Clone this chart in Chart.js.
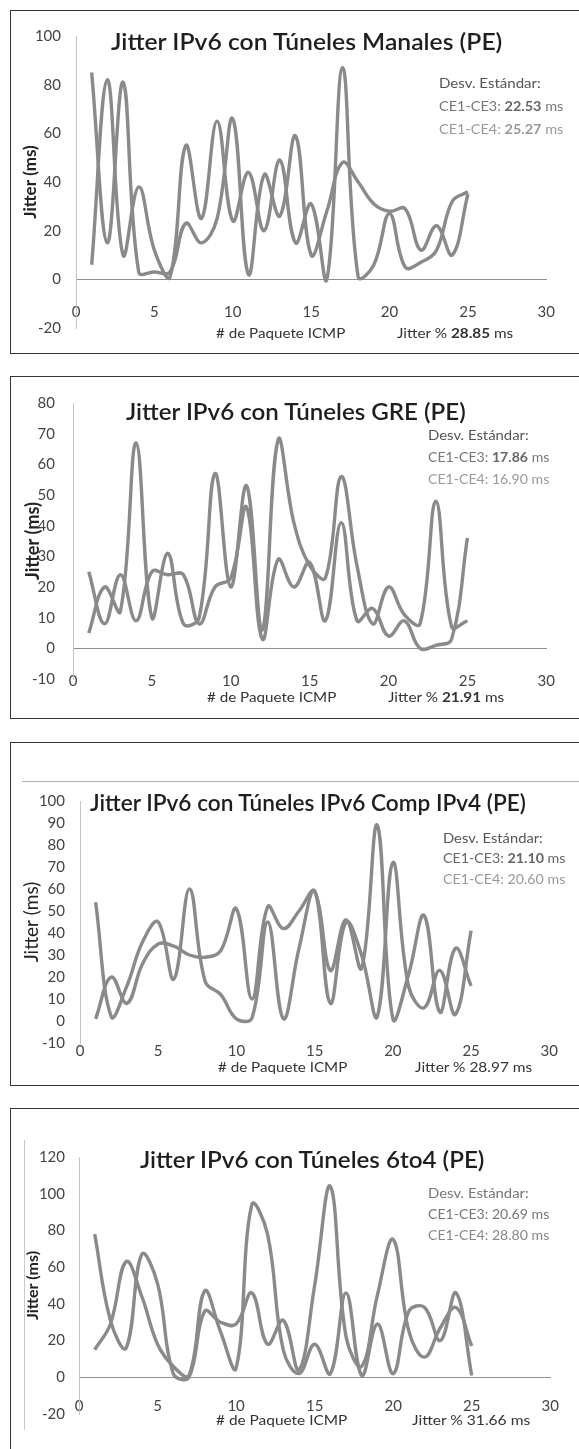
<!DOCTYPE html>
<html>
<head>
<meta charset="utf-8">
<script src="https://cdn.jsdelivr.net/npm/chart.js@4.4.1/dist/chart.umd.min.js"></script>
<style>
  body { margin: 0; background: #fff; width: 579px; height: 1449px; position: relative; overflow: hidden; font-family: Lato, "Open Sans", sans-serif; }
  .caja { position: absolute; border: 1.5px solid #363636; box-sizing: border-box; }
  .linea { position: absolute; background: #b0b0b0; }
  canvas { position: absolute; left: 0; }
  .txt { position: absolute; white-space: nowrap; line-height: 1; transform-origin: 0 50%; }
</style>
</head>
<body>
<div class="caja" style="left:10px;top:10px;width:570px;height:344px"></div>
<div class="caja" style="left:10px;top:376px;width:570px;height:343px"></div>
<div class="caja" style="left:10px;top:742px;width:570px;height:344px"></div>
<div class="caja" style="left:10px;top:1108px;width:570px;height:400px"></div>
<div class="linea" style="left:22px;top:781px;width:557px;height:1px"></div>
<div class="linea" style="left:24px;top:1140px;width:1px;height:290px;background:#c8c8c8"></div>

<canvas id="g1" width="579" height="344" style="top:10px"></canvas>
<canvas id="g2" width="579" height="343" style="top:376px"></canvas>
<canvas id="g3" width="579" height="344" style="top:742px"></canvas>
<canvas id="g4" width="579" height="341" style="top:1108px"></canvas>

<script>
// # de paquete ICMP (eje X)
const paquetes = [1, 2, 3, 4, 5, 6, 7, 8, 9, 10, 11, 12, 13, 14, 15, 16, 17, 18, 19, 20, 21, 22, 23, 24, 25];

const manalesCE3 = [85, 15, 81, 3, 3, 3, 23, 15, 25, 66, 2, 43, 26, 59, 10, 28, 48, 40, 31, 28, 29, 12, 22, 10, 35];
const manalesCE4 = [6, 82, 10, 38, 12, 1, 55, 25, 65, 24, 44, 20, 49, 15, 31, 0, 87, 1, 6, 27, 5, 7, 12, 32, 36];

const greCE3 = [25, 8, 24, 9, 25, 24, 24, 8, 20, 23, 46, 3, 29, 20, 28, 9, 41, 9, 13, 4, 9, 0, 1, 3, 36];
const greCE4 = [5, 20, 12, 67, 10, 31, 8, 10, 57, 20, 53, 6, 68, 41, 27, 23, 56, 27, 8, 20, 11, 8, 48, 7, 9];

const compCE3 = [54, 2, 16, 36, 45, 19, 60, 18, 12, 1, 1.5, 45, 1, 33, 59, 8, 45, 30, 2, 72, 16, 6, 23, 3, 41];
const compCE4 = [1, 20, 8, 26, 35, 34, 30, 29, 32, 51, 10, 52, 42, 50, 59, 23, 46, 24, 89, 1, 21, 48, 4, 33, 16];

const t6to4CE3 = [78, 31, 16, 67, 51, 2, 0, 36, 30, 29, 46, 18, 31, 4, 50, 104, 22, 6, 45, 75, 25, 11, 27, 38, 17];
const t6to4CE4 = [15, 29, 63, 44, 18, 6, 1, 47, 25, 5, 94, 78, 15, 2, 18, 2, 46, 1, 29, 2, 36, 38, 20, 46, 1];

// ejes: [min, max, paso]
const ejeX = [0, 30, 5];
const ejeY1 = [-20, 100, 20];
const ejeY2 = [-10, 80, 10];
const ejeY3 = [-10, 100, 10];
const ejeY4 = [-20, 120, 20];

const colorLinea = "#8a8a8a";
const anchoEjeY = 62;

function crearGrafica(id, serie1, serie2, ejeY, lay) {
  const datos = (serie) => paquetes.map((p, i) => ({ x: p, y: serie[i] }));
  const config = {
    type: "line",
    data: {
      datasets: [serie1, serie2].map((s) => ({
        data: datos(s),
        borderColor: colorLinea,
        borderWidth: 3.4,
        pointRadius: 0,
        tension: 0.4,
        fill: false,
      })),
    },
    options: {
      responsive: false,
      animation: false,
      devicePixelRatio: 1,
      layout: {
        padding: {
          left: lay.x0 - anchoEjeY,
          right: 579 - lay.x30,
          top: lay.yTop - lay.top,
          bottom: lay.alto - (lay.yBot - lay.top),
        },
      },
      plugins: { legend: { display: false }, tooltip: { enabled: false } },
      scales: {
        x: {
          type: "linear",
          min: ejeX[0],
          max: ejeX[1],
          position: { y: 0 },
          ticks: { stepSize: ejeX[2], padding: lay.padX, color: "#444", font: { family: "Lato", size: 15 } },
          grid: { display: false, drawTicks: false },
          border: { display: lay.eje0, color: "#8f8f8f", width: 1 },
        },
        y: {
          min: ejeY[0],
          max: ejeY[1],
          ticks: { stepSize: ejeY[2], autoSkip: false, padding: lay.padY, color: "#444", font: { family: "Lato", size: 15 } },
          grid: { display: false, drawTicks: false },
          border: { display: true, color: "#c4c4c4", width: 1 },
          title: {
            display: true,
            text: "Jitter (ms)",
            color: "#222",
            font: { family: "Lato", size: lay.tamTit, weight: lay.pesoTit },
            padding: { top: Math.max(0, lay.titX - (lay.x0 - anchoEjeY) - lay.tamTit * 0.6), bottom: 0 },
          },
          afterFit(s) { s.width = anchoEjeY; },
        },
      },
    },
  };
  return new Chart(document.getElementById(id), config);
}

crearGrafica("g1", manalesCE3, manalesCE4, ejeY1,
  { top: 10, alto: 344, x0: 76, x30: 558, yTop: 36, yBot: 328, padX: 24, padY: 15, eje0: true, titX: 31, tamTit: 17, pesoTit: "bold" });
crearGrafica("g2", greCE3, greCE4, ejeY2,
  { top: 376, alto: 343, x0: 73, x30: 558, yTop: 403, yBot: 679, padX: 24, padY: 18, eje0: true, titX: 33, tamTit: 18, pesoTit: "bold" });
crearGrafica("g3", compCE3, compCE4, ejeY3,
  { top: 742, alto: 344, x0: 80, x30: 558, yTop: 801, yBot: 1043, padX: 21, padY: 15, eje0: false, titX: 32, tamTit: 19, pesoTit: "normal" });
crearGrafica("g4", t6to4CE3, t6to4CE4, ejeY4,
  { top: 1108, alto: 341, x0: 79, x30: 557, yTop: 1157, yBot: 1414, padX: 20, padY: 14, eje0: true, titX: 33, tamTit: 16, pesoTit: "bold" });

// textos: titulo, desviacion estandar y eje X
const textos = [
  { l: 111, cy: 42, w: 391, s: 23, c: "#1e1e1e", b: 600, h: "Jitter IPv6 con Túneles Manales (PE)" },
  { l: 439, cy: 83, w: 102, s: 14, c: "#555", h: "Desv. Estándar:" },
  { l: 439, cy: 106, w: 124, s: 14, c: "#777", h: "CE1-CE3: <b style='color:#666'>22.53</b> ms" },
  { l: 439, cy: 129, w: 124, s: 14, c: "#999", h: "CE1-CE4: <b>25.27</b> ms" },
  { l: 216, cy: 333, w: 129, s: 14, c: "#333", h: "# de Paquete ICMP" },
  { l: 397, cy: 333, w: 116, s: 14, c: "#333", h: "Jitter % <b>28.85</b> ms" },

  { l: 126, cy: 412, w: 340, s: 23, c: "#1e1e1e", b: 600, h: "Jitter IPv6 con Túneles GRE (PE)" },
  { l: 428, cy: 435, w: 101, s: 14, c: "#555", h: "Desv. Estándar:" },
  { l: 428, cy: 457, w: 121, s: 14, c: "#777", h: "CE1-CE3: <b style='color:#666'>17.86</b> ms" },
  { l: 428, cy: 479, w: 121, s: 14, c: "#999", h: "CE1-CE4: 16.90 ms" },
  { l: 207, cy: 697, w: 129, s: 14, c: "#333", h: "# de Paquete ICMP" },
  { l: 388, cy: 697, w: 116, s: 14, c: "#333", h: "Jitter % <b>21.91</b> ms" },

  { l: 90, cy: 803, w: 436, s: 23, c: "#1e1e1e", b: 600, h: "Jitter IPv6 con Túneles IPv6 Comp IPv4 (PE)" },
  { l: 443, cy: 838, w: 100, s: 14, c: "#555", h: "Desv. Estándar:" },
  { l: 443, cy: 858, w: 122, s: 14, c: "#666", h: "CE1-CE3: <b>21.10</b> ms" },
  { l: 443, cy: 879, w: 122, s: 14, c: "#999", h: "CE1-CE4: 20.60 ms" },
  { l: 218, cy: 1067, w: 129, s: 14, c: "#333", h: "# de Paquete ICMP" },
  { l: 415, cy: 1067, w: 117, s: 14, c: "#333", h: "Jitter % 28.97 ms" },

  { l: 140, cy: 1160, w: 344, s: 23, c: "#1e1e1e", b: 600, h: "Jitter IPv6 con Túneles 6to4 (PE)" },
  { l: 428, cy: 1193, w: 101, s: 14, c: "#777", h: "Desv. Estándar:" },
  { l: 428, cy: 1214, w: 121, s: 14, c: "#777", h: "CE1-CE3: 20.69 ms" },
  { l: 428, cy: 1235, w: 121, s: 14, c: "#888", h: "CE1-CE4: 28.80 ms" },
  { l: 216, cy: 1420, w: 131, s: 14, c: "#333", h: "# de Paquete ICMP" },
  { l: 412, cy: 1420, w: 118, s: 14, c: "#333", h: "Jitter % 31.66 ms" },
];

textos.forEach((t) => {
  const d = document.createElement("div");
  d.className = "txt";
  d.style.left = t.l + "px";
  d.style.top = (t.cy - 0.53 * t.s) + "px";
  d.style.fontSize = t.s + "px";
  d.style.color = t.c;
  if (t.b) d.style.fontWeight = t.b;
  d.innerHTML = t.h;
  document.body.appendChild(d);
  const k = t.w / d.offsetWidth;
  d.style.transform = `scaleX(${k.toFixed(3)})`;
});
</script>
</body>
</html>
